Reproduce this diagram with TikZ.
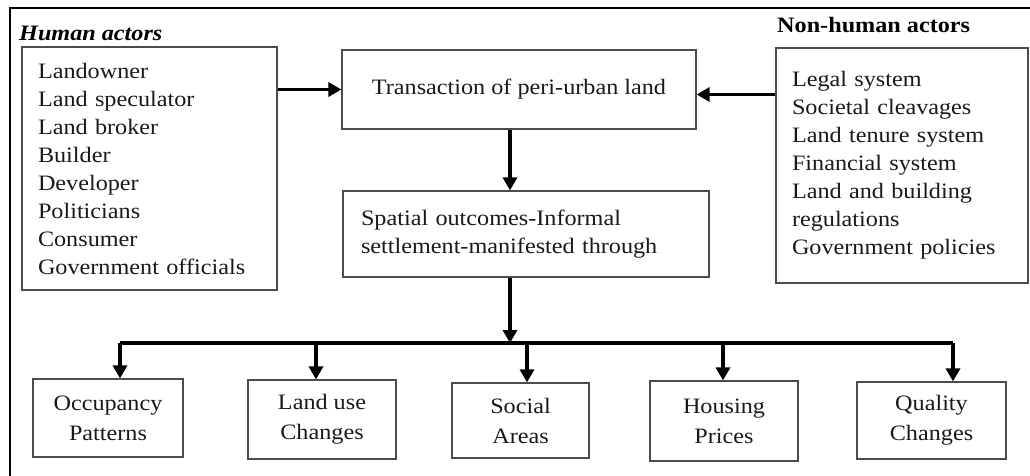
\documentclass[tikz,border=0pt]{standalone}
\usepackage{fontspec}
\setmainfont[FakeStretch=1.1]{Liberation Serif}
\usetikzlibrary{arrows.meta}
\begin{document}
\begin{tikzpicture}[x=1pt,y=-1pt,
  box/.style={draw=black!70, line width=1.2pt, rectangle, inner sep=0pt,
    font=\fontsize{22}{28}\selectfont, text=black!90},
  listbox/.style={box, align=left},
  outbox/.style={box, align=center, font=\fontsize{22}{30}\selectfont},
  heading/.style={anchor=west, inner sep=0pt, font=\fontsize{22}{26}\selectfont\bfseries},
  arr/.style={line width=3.5pt, black, -{Triangle[length=13pt,width=14pt]}},
  bus/.style={line width=3.5pt, black, line join=miter}]
\useasboundingbox (0,0) rectangle (1030,476);

% frame
\draw[line width=1.4pt] (10,476) -- (10,8) -- (1030,8);

% actor headings
\node[heading, font=\fontsize{22}{26}\selectfont\bfseries\itshape] (hlab) at (19,33) {Human actors};
\node[heading] (nlab) at (777,25) {Non-human actors};

% actor lists
\node[listbox, minimum width=255pt, minimum height=243pt, text width=223pt] (human) at (149.5,168.5)
  {Landowner\\ Land speculator\\ Land broker\\ Builder\\ Developer\\ Politicians\\ Consumer\\ Government officials};
\node[listbox, minimum width=252pt, minimum height=235pt, text width=220pt] (nonhuman) at (902,165.5)
  {Legal system\\ Societal cleavages\\ Land tenure system\\ Financial system\\ Land and building\\ regulations\\ Government policies};

% central chain
\node[box, minimum width=354pt, minimum height=79pt] (trans) at (519,89.5) {Transaction of peri-urban land};
\node[listbox, minimum width=366pt, minimum height=86pt, text width=330pt] (spatial) at (526,234)
  {Spatial outcomes-Informal\\ settlement-manifested through};

% outcomes
\node[outbox, minimum width=150pt, minimum height=78pt] (occ) at (108,418) {Occupancy\\ Patterns};
\node[outbox, minimum width=148pt, minimum height=79pt] (luse) at (322,419.5) {Land use\\ Changes};
\node[outbox, minimum width=137pt, minimum height=75pt] (social) at (520.5,420.5) {Social\\ Areas};
\node[outbox, minimum width=148pt, minimum height=80pt] (house) at (724,421) {Housing\\ Prices};
\node[outbox, minimum width=149pt, minimum height=77pt] (qual) at (931.5,420.5) {Quality\\ Changes};

% connectors
\draw[arr] (human.east |- trans.west) -- (trans.west);
\draw[arr] ([yshift=-5pt]nonhuman.west |- trans.east) -- ([yshift=-5pt]trans.east);
\draw[arr] ([xshift=-9pt]trans.south) -- ([xshift=-9pt]trans.south |- spatial.north);

\coordinate (b1) at (120,343);
\coordinate (b2) at (316,343);
\coordinate (b3) at (527,343);
\coordinate (b4) at (723,343);
\coordinate (b5) at (953,343);

\draw[arr] ([xshift=-16pt]spatial.south) -- ([xshift=-16pt]spatial.south |- b1);
\draw[bus] (b1) -- (b5);
\draw[arr] (b1) -- (b1 |- occ.north);
\draw[arr] (b2) -- (b2 |- luse.north);
\draw[arr] (b3) -- (b3 |- social.north);
\draw[arr] (b4) -- (b4 |- house.north);
\draw[arr] (b5) -- (b5 |- qual.north);
\end{tikzpicture}
\end{document}
